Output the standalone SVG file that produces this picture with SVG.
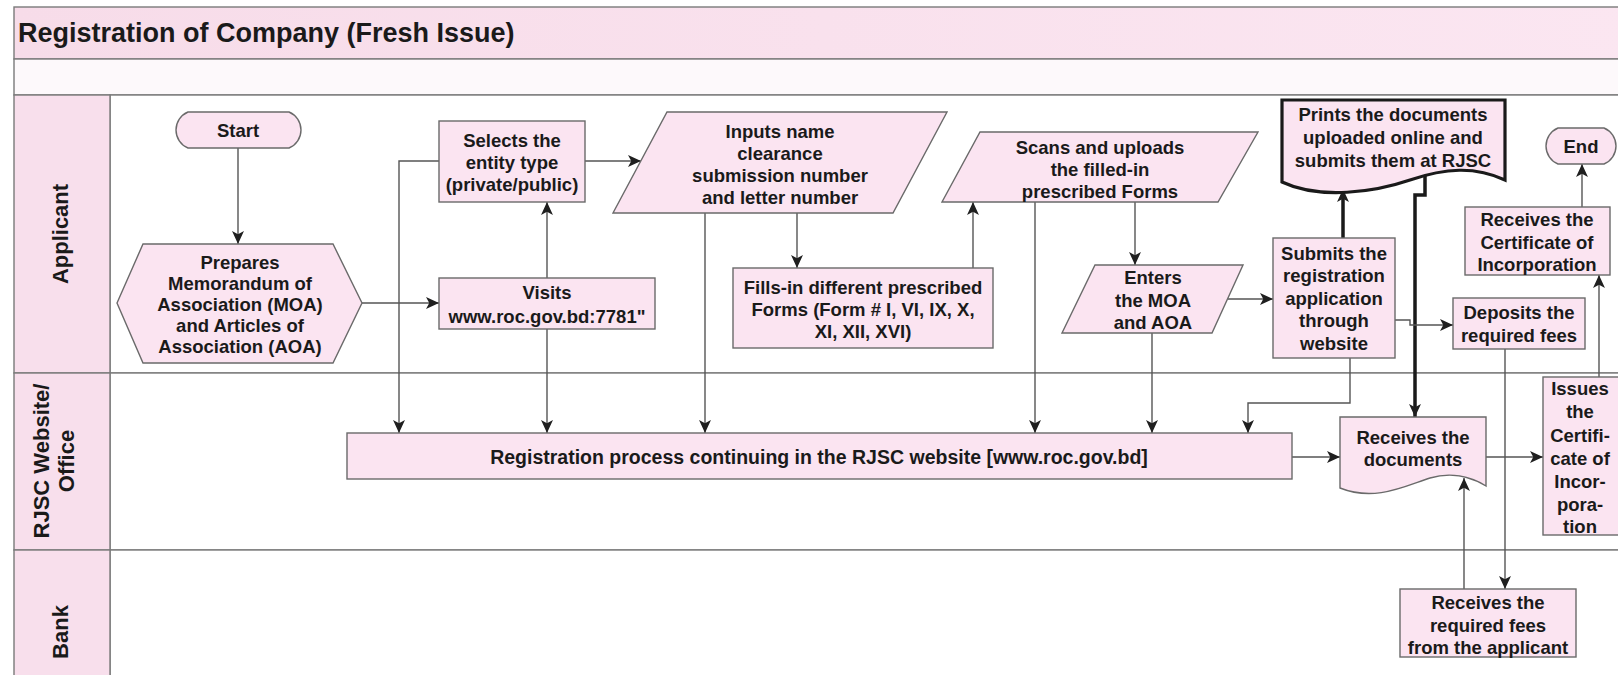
<svg xmlns="http://www.w3.org/2000/svg" width="1618" height="675" viewBox="0 0 1618 675">
<style>
.t{font-family:"Liberation Sans",Arial,sans-serif;font-weight:bold;font-size:18.5px;fill:#1a1a1a;text-anchor:middle;dominant-baseline:central}
.lab{font-family:"Liberation Sans",Arial,sans-serif;font-weight:bold;font-size:22px;fill:#1a1a1a;text-anchor:middle;dominant-baseline:central}
.title{font-family:"Liberation Sans",Arial,sans-serif;font-weight:bold;font-size:27px;fill:#1a1a1a}
.n{fill:#fbe4f1;stroke:#6a6a6a;stroke-width:1.4}
.nt{fill:#fbe4f1;stroke:#1a1a1a;stroke-width:3.2}
.hd{fill:#f8dfec;stroke:#7a7a7a;stroke-width:1.4}
.bd{fill:#ffffff;stroke:#7a7a7a;stroke-width:1.4}
.c{fill:none;stroke:#555;stroke-width:1.4}
.ck{fill:none;stroke:#1a1a1a;stroke-width:3.5}
</style>
<defs>
<marker id="arr" viewBox="0 0 12 12" refX="12" refY="6" markerWidth="13" markerHeight="13" markerUnits="userSpaceOnUse" orient="auto">
<path d="M0,0.5 L12,6 L0,11.5 L3,6 Z" fill="#1f1f1f"/>
</marker>
<linearGradient id="gt" x1="0" y1="0" x2="1" y2="0">
<stop offset="0" stop-color="#f7dce9"/>
<stop offset="1" stop-color="#fbe6f1"/>
</linearGradient>
</defs>

<g id="lanes">
<rect x="14" y="7" width="1620" height="52" fill="url(#gt)" stroke="#7a7a7a" stroke-width="1.4"/>
<text class="title" x="18" y="42">Registration of Company (Fresh Issue)</text>
<rect x="14" y="59" width="1620" height="36" fill="#fdf9fb" stroke="#7a7a7a" stroke-width="1.4"/>
<g id="lane-applicant">
<rect class="bd" x="110" y="95" width="1524" height="278"/>
<rect class="hd" x="14" y="95" width="96" height="278"/>
<text class="lab" transform="translate(60,234) rotate(-90)">Applicant</text>
</g>
<g id="lane-rjsc">
<rect class="bd" x="110" y="373" width="1524" height="177"/>
<rect class="hd" x="14" y="373" width="96" height="177"/>
<text class="lab" transform="translate(41,461) rotate(-90)">RJSC Website/</text>
<text class="lab" transform="translate(66,461) rotate(-90)">Office</text>
</g>
<g id="lane-bank">
<rect class="bd" x="110" y="550" width="1524" height="140"/>
<rect class="hd" x="14" y="550" width="96" height="140"/>
<text class="lab" transform="translate(60,632) rotate(-90)">Bank</text>
</g>
</g>

<g id="connectors">
<path class="c" d="M238,148 V244" marker-end="url(#arr)"/>
<path class="c" d="M362,303 H439" marker-end="url(#arr)"/>
<path class="c" d="M439,161 H399 V433" marker-end="url(#arr)"/>
<path class="c" d="M547,278 V202" marker-end="url(#arr)"/>
<path class="c" d="M547,329 V433" marker-end="url(#arr)"/>
<path class="c" d="M585,161 H641" marker-end="url(#arr)"/>
<path class="c" d="M705,213 V433" marker-end="url(#arr)"/>
<path class="c" d="M797,213 V268" marker-end="url(#arr)"/>
<path class="c" d="M973,268 V202" marker-end="url(#arr)"/>
<path class="c" d="M1035,202 V433" marker-end="url(#arr)"/>
<path class="c" d="M1135,202 V265" marker-end="url(#arr)"/>
<path class="c" d="M1152,333 V433" marker-end="url(#arr)"/>
<path class="c" d="M1228,299 H1273" marker-end="url(#arr)"/>
<path class="ck" d="M1343,238 V189" marker-end="url(#arr)"/>
<path class="ck" d="M1425,176 V195 H1415 V417" marker-end="url(#arr)"/>
<path class="c" d="M1395,320 H1410 V325 H1453" marker-end="url(#arr)"/>
<path class="c" d="M1350,358 V403 H1248 V433" marker-end="url(#arr)"/>
<path class="c" d="M1505,349 V589" marker-end="url(#arr)"/>
<path class="c" d="M1464,589 V478" marker-end="url(#arr)"/>
<path class="c" d="M1292,457 H1340" marker-end="url(#arr)"/>
<path class="c" d="M1486,457 H1543" marker-end="url(#arr)"/>
<path class="c" d="M1599,377 V275" marker-end="url(#arr)"/>
<path class="c" d="M1582,207 V164" marker-end="url(#arr)"/>
</g>

<g id="start">
<path class="n" d="M188,112 H289 A19.5,19.5 0 0 1 289,148 H188 A19.5,19.5 0 0 1 188,112 Z"/>
<text class="t" x="238" y="130">Start</text>
</g>

<g id="prepares">
<polygon class="n" points="117,303 143,244 333,244 362,303 333,363 143,363"/>
<text class="t" x="240" y="262">Prepares</text>
<text class="t" x="240" y="283">Memorandum of</text>
<text class="t" x="240" y="304">Association (MOA)</text>
<text class="t" x="240" y="325">and Articles of</text>
<text class="t" x="240" y="346">Association (AOA)</text>
</g>

<g id="visits">
<rect class="n" x="439" y="278" width="216" height="51"/>
<text class="t" x="547" y="292">Visits</text>
<text class="t" x="547" y="316">www.roc.gov.bd:7781"</text>
</g>

<g id="selects">
<rect class="n" x="439" y="121" width="146" height="81"/>
<text class="t" x="512" y="140">Selects the</text>
<text class="t" x="512" y="162">entity type</text>
<text class="t" x="512" y="184">(private/public)</text>
</g>

<g id="inputs">
<polygon class="n" points="667,112 947,112 893,213 613,213"/>
<text class="t" x="780" y="131">Inputs name</text>
<text class="t" x="780" y="153">clearance</text>
<text class="t" x="780" y="175">submission number</text>
<text class="t" x="780" y="197">and letter number</text>
</g>

<g id="fills">
<rect class="n" x="733" y="268" width="260" height="80"/>
<text class="t" x="863" y="287">Fills-in different prescribed</text>
<text class="t" x="863" y="309">Forms (Form # I, VI, IX, X,</text>
<text class="t" x="863" y="331">XI, XII, XVI)</text>
</g>

<g id="scans">
<polygon class="n" points="980,132 1258,132 1218,202 942,202"/>
<text class="t" x="1100" y="147">Scans and uploads</text>
<text class="t" x="1100" y="169">the filled-in</text>
<text class="t" x="1100" y="191">prescribed Forms</text>
</g>

<g id="enters">
<polygon class="n" points="1095,265 1243,265 1212,333 1062,333"/>
<text class="t" x="1153" y="277">Enters</text>
<text class="t" x="1153" y="300">the MOA</text>
<text class="t" x="1153" y="322">and AOA</text>
</g>

<g id="submits">
<rect class="n" x="1273" y="238" width="122" height="120"/>
<text class="t" x="1334" y="253">Submits the</text>
<text class="t" x="1334" y="275">registration</text>
<text class="t" x="1334" y="298">application</text>
<text class="t" x="1334" y="320">through</text>
<text class="t" x="1334" y="343">website</text>
</g>

<g id="prints">
<path class="nt" d="M1282,100 H1505 V180 C1475,166 1445,168 1410,180 C1375,192 1320,200 1282,182 Z"/>
<text class="t" x="1393" y="114">Prints the documents</text>
<text class="t" x="1393" y="137">uploaded online and</text>
<text class="t" x="1393" y="160">submits them at RJSC</text>
</g>

<g id="end">
<path class="n" d="M1558,128 H1604 A19.5,19.5 0 0 1 1604,164 H1558 A19.5,19.5 0 0 1 1558,128 Z"/>
<text class="t" x="1581" y="146">End</text>
</g>

<g id="receives-certificate">
<rect class="n" x="1465" y="207" width="145" height="68"/>
<text class="t" x="1537" y="219">Receives the</text>
<text class="t" x="1537" y="242">Certificate of</text>
<text class="t" x="1537" y="264">Incorporation</text>
</g>

<g id="deposits">
<rect class="n" x="1453" y="298" width="132" height="51"/>
<text class="t" x="1519" y="312">Deposits the</text>
<text class="t" x="1519" y="335">required fees</text>
</g>

<g id="registration">
<rect class="n" x="347" y="433" width="945" height="46"/>
<text class="t" x="819" y="457" style="font-size:19.5px">Registration process continuing in the RJSC website [www.roc.gov.bd]</text>
</g>

<g id="receives-documents">
<path class="n" d="M1340,417 H1486 V486 C1470,476 1450,472 1430,478 C1405,486 1375,502 1340,488 Z"/>
<text class="t" x="1413" y="437">Receives the</text>
<text class="t" x="1413" y="459">documents</text>
</g>

<g id="issues">
<rect class="n" x="1543" y="377" width="90" height="158"/>
<text class="t" x="1580" y="388">Issues</text>
<text class="t" x="1580" y="411">the</text>
<text class="t" x="1580" y="435">Certifi-</text>
<text class="t" x="1580" y="458">cate of</text>
<text class="t" x="1580" y="481">Incor-</text>
<text class="t" x="1580" y="504">pora-</text>
<text class="t" x="1580" y="526">tion</text>
</g>

<g id="receives-fees">
<rect class="n" x="1400" y="589" width="176" height="68"/>
<text class="t" x="1488" y="602">Receives the</text>
<text class="t" x="1488" y="625">required fees</text>
<text class="t" x="1488" y="647">from the applicant</text>
</g>
</svg>
